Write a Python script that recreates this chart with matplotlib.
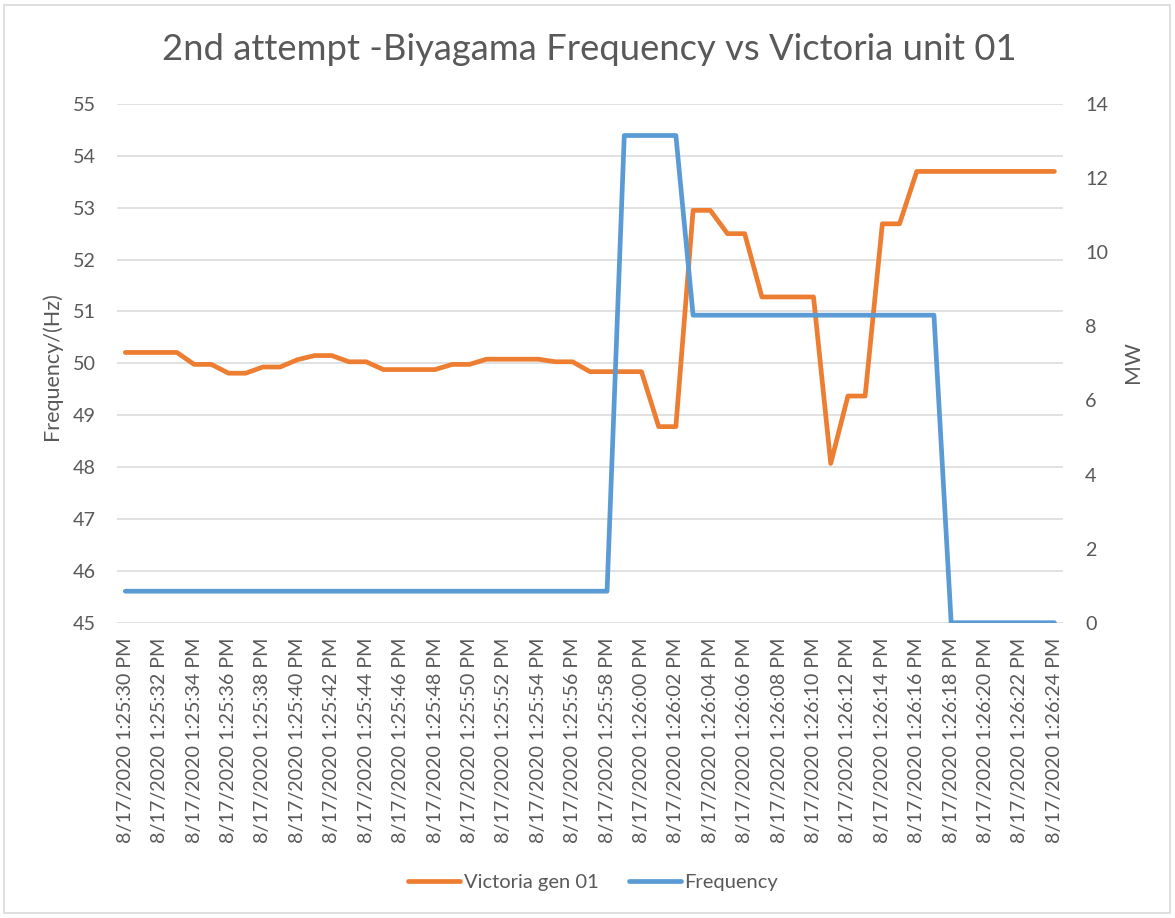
import matplotlib
matplotlib.use("Agg")
import matplotlib.pyplot as plt
from matplotlib.patches import Rectangle

plt.rcParams['font.family'] = ['Lato', 'DejaVu Sans']

# ---- data ----
seconds = list(range(30, 60)) + list(range(0, 25))
minutes = [25] * 30 + [26] * 25
categories = [f"8/17/2020 1:{m:02d}:{s:02d} PM" for m, s in zip(minutes, seconds)]

victoria_gen_01 = [50.21, 50.21, 50.21, 50.21, 49.98, 49.98, 49.81, 49.81, 49.93, 49.93,
                   50.07, 50.15, 50.15, 50.03, 50.03, 49.88, 49.88, 49.88, 49.88, 49.98,
                   49.98, 50.08, 50.08, 50.08, 50.08, 50.03, 50.03, 49.84, 49.84, 49.84,
                   49.84, 48.78, 48.78, 52.95, 52.95, 52.50, 52.50, 51.28, 51.28, 51.28,
                   51.28, 48.07, 49.37, 49.37, 52.69, 52.69, 53.70, 53.70, 53.70, 53.70,
                   53.70, 53.70, 53.70, 53.70, 53.70]

frequency = [0.85] * 29 + [13.15] * 4 + [8.30] * 15 + [0.0] * 7

left_ticks = list(range(45, 56))
right_ticks = list(range(0, 15, 2))

title = "2nd attempt -Biyagama Frequency vs Victoria unit 01"

# ---- style ----
TXT = "#595959"
ORANGE = "#ED7D31"
BLUE = "#5B9BD5"
GRID = "#D9D9D9"

W, H = 1175, 918
fig = plt.figure(figsize=(W / 100, H / 100), dpi=100)
ax_left, ax_right, ax_top, ax_bot = 116.7, 1063.0, 104.0, 622.7
ax = fig.add_axes([ax_left / W, 1 - ax_bot / H, (ax_right - ax_left) / W, (ax_bot - ax_top) / H])
ax2 = ax.twinx()

x = list(range(len(categories)))
l1, = ax.plot(x, victoria_gen_01, color=ORANGE, lw=3.4, solid_capstyle='round',
              solid_joinstyle='round', label="Victoria gen 01", zorder=3)
l2, = ax2.plot(x, frequency, color=BLUE, lw=3.4, solid_capstyle='round',
               solid_joinstyle='round', label="Frequency", zorder=3)

ax.set_xlim(-0.5, len(categories) - 0.5)
ax.set_ylim(45, 55)
ax2.set_ylim(0, 14)
ax.set_yticks(left_ticks)
ax2.set_yticks(right_ticks)
ax.set_xticks(x[::2])
ax.set_xticklabels(categories[::2], rotation=90, color=TXT)

ax.grid(axis='y', color=GRID, lw=1.1)
ax.set_axisbelow(True)
for a in (ax, ax2):
    for sp in a.spines.values():
        sp.set_visible(False)
    a.tick_params(length=0, colors=TXT, labelsize=13.5)
ax.tick_params(axis='y', pad=15)
ax2.tick_params(axis='y', pad=16)
ax.tick_params(axis='x', pad=11)

ylab = ax.set_ylabel("Frequency/(Hz)", fontsize=15, color=TXT)
ax.yaxis.set_label_coords((62 - ax_left) / (ax_right - ax_left), (ax_bot - 366) / (ax_bot - ax_top))
mwlab = ax2.set_ylabel("MW", fontsize=15, color=TXT)
ax2.yaxis.set_label_coords((1123 - ax_left) / (ax_right - ax_left), (ax_bot - 362.5) / (ax_bot - ax_top))

ttl = fig.text(589.5 / W, 1 - 50 / H, title, fontsize=26, color=TXT, ha='center', va='center')

# fit font sizes so that text lengths match the reference
renderer = fig.canvas.get_renderer()


def fit(texts, target_px, vertical=False):
    for _ in range(3):
        bb = texts[0].get_window_extent(renderer)
        cur = bb.height if vertical else bb.width
        fs = texts[0].get_fontsize() * target_px / cur
        for t in texts:
            t.set_fontsize(fs)
    return texts[0].get_fontsize()


fig.canvas.draw()
fs_x = fit(ax.get_xticklabels(), 205, vertical=True)
for t in ax.get_yticklabels() + ax2.get_yticklabels():
    t.set_fontsize(fs_x)
fit([ttl], 855)
fit([ylab], 148, vertical=True)
fit([mwlab], 41.6, vertical=True)

# legend
probe = fig.text(0, 0, "Victoria gen 01", fontsize=14)
fs_leg = fit([probe], 135)
probe.remove()
pt = 0.72  # px -> pt at 100 dpi
leg = fig.legend(handles=[l1, l2], loc='center', bbox_to_anchor=(593 / W, 1 - 882 / H),
                 ncol=2, frameon=False, fontsize=fs_leg,
                 handlelength=52.6 * pt / fs_leg, handletextpad=3.4 * pt / fs_leg,
                 columnspacing=30 * pt / fs_leg, borderpad=0, borderaxespad=0)
for t in leg.get_texts():
    t.set_color(TXT)

fig.patches.append(Rectangle((4 / W, 1 - 913 / H), 1166 / W, 908 / H, transform=fig.transFigure,
                             fill=False, edgecolor=GRID, lw=1.2))

fig.savefig("out.png", dpi=100)
